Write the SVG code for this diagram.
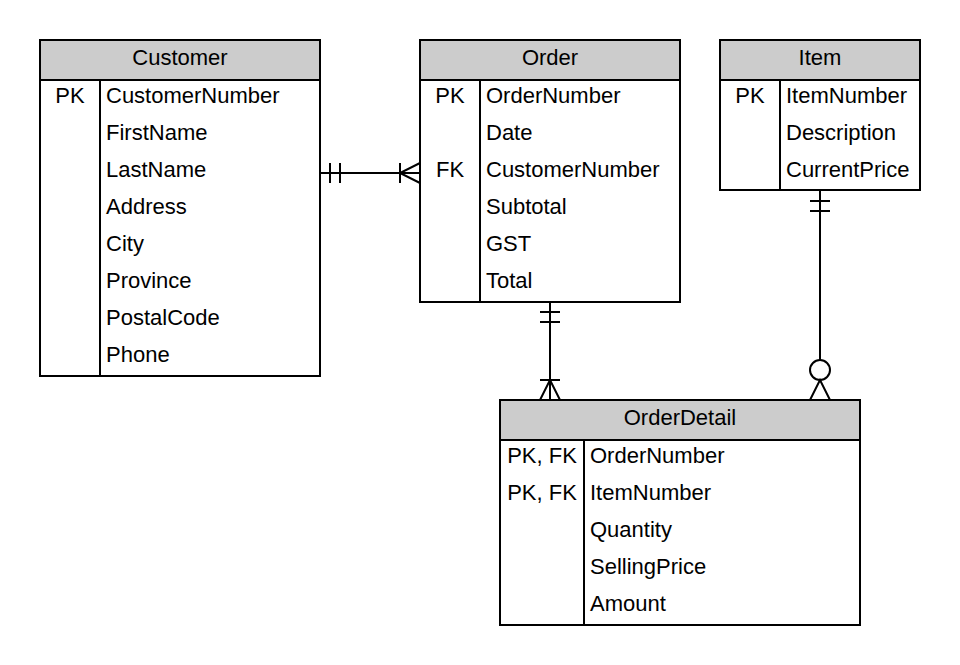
<svg xmlns="http://www.w3.org/2000/svg" width="960" height="665" viewBox="0 0 960 665">
<style>
.box{fill:#fff;stroke:#000;stroke-width:2}
.hd{fill:#ccc;stroke:#000;stroke-width:2}
.ln{stroke:#000;stroke-width:2;fill:none}
text{font-family:"Liberation Sans",Arial,sans-serif;font-size:22px;fill:#000}
.c{text-anchor:middle}
</style>
<rect width="960" height="665" fill="#fff"/>
<g id="customer">
<rect class="box" x="40" y="40" width="280" height="336"/>
<rect class="hd" x="40" y="40" width="280" height="40"/>
<line class="ln" x1="100" y1="80" x2="100" y2="376"/>
<text class="c" x="180" y="65">Customer</text>
<text class="c" x="70" y="102.5">PK</text>
<text x="106" y="102.5">CustomerNumber</text>
<text x="106" y="139.5">FirstName</text>
<text x="106" y="176.5">LastName</text>
<text x="106" y="213.5">Address</text>
<text x="106" y="250.5">City</text>
<text x="106" y="287.5">Province</text>
<text x="106" y="324.5">PostalCode</text>
<text x="106" y="361.5">Phone</text>
</g>
<g id="order">
<rect class="box" x="420" y="40" width="260" height="262"/>
<rect class="hd" x="420" y="40" width="260" height="40"/>
<line class="ln" x1="480" y1="80" x2="480" y2="302"/>
<text class="c" x="550" y="65">Order</text>
<text class="c" x="450" y="102.5">PK</text>
<text x="486" y="102.5">OrderNumber</text>
<text x="486" y="139.5">Date</text>
<text class="c" x="450" y="176.5">FK</text>
<text x="486" y="176.5">CustomerNumber</text>
<text x="486" y="213.5">Subtotal</text>
<text x="486" y="250.5">GST</text>
<text x="486" y="287.5">Total</text>
</g>
<g id="item">
<rect class="box" x="720" y="40" width="200" height="150"/>
<rect class="hd" x="720" y="40" width="200" height="40"/>
<line class="ln" x1="780" y1="80" x2="780" y2="190"/>
<text class="c" x="820" y="65">Item</text>
<text class="c" x="750" y="102.5">PK</text>
<text x="786" y="102.5">ItemNumber</text>
<text x="786" y="139.5">Description</text>
<text x="786" y="176.5">CurrentPrice</text>
</g>
<g id="orderdetail">
<rect class="box" x="500" y="400" width="360" height="225"/>
<rect class="hd" x="500" y="400" width="360" height="40"/>
<line class="ln" x1="584" y1="440" x2="584" y2="625"/>
<text class="c" x="680" y="425">OrderDetail</text>
<text class="c" x="542" y="462.5">PK, FK</text>
<text x="590" y="462.5">OrderNumber</text>
<text class="c" x="542" y="499.5">PK, FK</text>
<text x="590" y="499.5">ItemNumber</text>
<text x="590" y="536.5">Quantity</text>
<text x="590" y="573.5">SellingPrice</text>
<text x="590" y="610.5">Amount</text>
</g>
<g id="connectors">
<path class="ln" d="M320 173H420M330 163V183M340 163V183M400 163V183M420 163L400 173L420 183"/>
<path class="ln" d="M550 302V400M540 312H560M540 322H560M540 380H560M540 400L550 380L560 400"/>
<path class="ln" d="M820 190V360M810 201H830M810 211H830M810 400L820 380L830 400"/>
<circle class="ln" cx="820" cy="370" r="10"/>
</g>
</svg>
